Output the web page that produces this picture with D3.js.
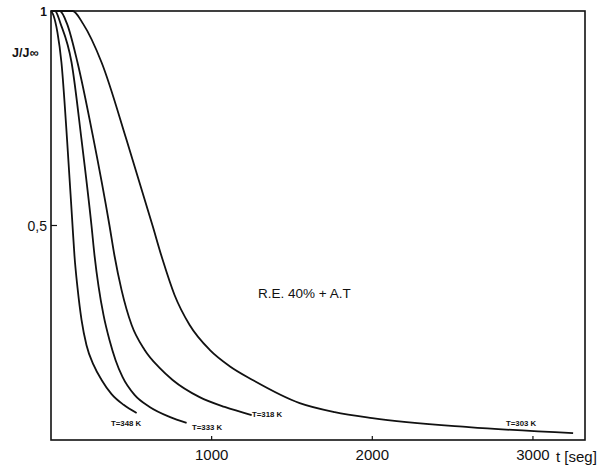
<!DOCTYPE html>
<html>
<head>
<meta charset="utf-8">
<script src="https://cdn.jsdelivr.net/npm/d3@7"></script>
<style>
  body { margin: 0; background: #fff; }
  svg text { font-family: "Liberation Sans", "DejaVu Sans", sans-serif; fill: #111; }
</style>
</head>
<body>
<svg id="chart"></svg>
<script>
// curve data: t (seg) and J/Joo
const t348 = [0, 15, 40, 65, 100, 134, 146, 165, 190, 221, 265, 315, 377, 452, 533];
const j348 = [1, 0.99, 0.95, 0.88, 0.70, 0.50, 0.43, 0.355, 0.28, 0.221, 0.175, 0.14, 0.107, 0.082, 0.063];
const t333 = [25, 60, 128, 190, 252, 271, 296, 327, 364, 402, 445, 520, 614, 738, 844];
const j333 = [1, 0.97, 0.88, 0.70, 0.50, 0.43, 0.358, 0.291, 0.233, 0.186, 0.147, 0.105, 0.077, 0.054, 0.04];
const t318 = [55, 100, 165, 260, 364, 395, 439, 502, 583, 676, 757, 925, 1081, 1249];
const j318 = [1, 0.97, 0.88, 0.71, 0.50, 0.43, 0.35, 0.268, 0.21, 0.168, 0.14, 0.10, 0.077, 0.058];
const t303 = [135, 200, 315, 470, 632, 695, 769, 863, 988, 1112, 1255, 1548, 1766, 2000, 2600, 3250];
const j303 = [1, 0.97, 0.88, 0.70, 0.50, 0.42, 0.338, 0.268, 0.21, 0.172, 0.14, 0.086, 0.065, 0.051, 0.03, 0.016];

const curveNames = ["T=348 K", "T=333 K", "T=318 K", "T=303 K"];
const xTicks = [1000, 2000, 3000];
const yTicks = [0.5, 1];
const yTickLabels = ["0,5", "1"];

function visualChart() {
    let width = 613, height = 467;
    let svg = d3.select("#chart").attr("width", width).attr("height", height);

    let x = d3.scaleLinear().domain([0, 3324]).range([51, 585]);
    let y = d3.scaleLinear().domain([0, 1]).range([440, 11]);

    // frame
    svg.append("rect")
        .attr("x", x(0)).attr("y", y(1))
        .attr("width", x(3324) - x(0)).attr("height", y(0) - y(1))
        .attr("fill", "none").attr("stroke", "#111").attr("stroke-width", 1.6);

    // x ticks (small, inward)
    svg.selectAll(".xt").data(xTicks).enter().append("line")
        .attr("x1", d => x(d)).attr("x2", d => x(d))
        .attr("y1", y(0)).attr("y2", y(0) - 4)
        .attr("stroke", "#111").attr("stroke-width", 1.2);
    svg.selectAll(".xl").data(xTicks).enter().append("text")
        .attr("x", d => x(d)).attr("y", y(0) + 20)
        .attr("text-anchor", "middle").attr("font-size", 15)
        .text(d => d);

    // y ticks
    svg.append("line")
        .attr("x1", x(0)).attr("x2", x(0) + 6)
        .attr("y1", y(0.5)).attr("y2", y(0.5))
        .attr("stroke", "#111").attr("stroke-width", 1.2);
    svg.selectAll(".yl").data(yTicks).enter().append("text")
        .attr("x", x(0) - 4).attr("y", d => y(d) + 5)
        .attr("text-anchor", "end").attr("font-size", (d, i) => i ? 12 : 14)
        .attr("font-weight", (d, i) => i ? "bold" : "normal")
        .text((d, i) => yTickLabels[i]);

    svg.append("text").attr("x", 12).attr("y", 57)
        .attr("font-size", 12.5).attr("font-weight", "bold").text("J/J∞");
    svg.append("text").attr("x", 556).attr("y", 462)
        .attr("font-size", 15).text("t [seg]");
    svg.append("text").attr("x", 258).attr("y", 298)
        .attr("font-size", 13.5).text("R.E. 40% + A.T");

    // curves
    let series = [[t348, j348], [t333, j333], [t318, j318], [t303, j303]];
    let line = d3.line()
        .x(d => x(d[0])).y(d => y(d[1]))
        .curve(d3.curveMonotoneX);
    series.forEach(function (s) {
        let pts = d3.zip(s[0], s[1]);
        if (s[0][0] > 0) pts.unshift([0, 1]);
        svg.append("path")
            .datum(pts)
            .attr("d", line)
            .attr("fill", "none").attr("stroke", "#111").attr("stroke-width", 1.8);
    });

    // curve labels
    let labelPos = [[111, 426], [192, 430], [252, 417], [506, 426]];
    svg.selectAll(".cl").data(curveNames).enter().append("text")
        .attr("x", (d, i) => labelPos[i][0]).attr("y", (d, i) => labelPos[i][1])
        .attr("font-size", 7.8).attr("font-weight", "bold")
        .text(d => d);
}

visualChart();
</script>
</body>
</html>
